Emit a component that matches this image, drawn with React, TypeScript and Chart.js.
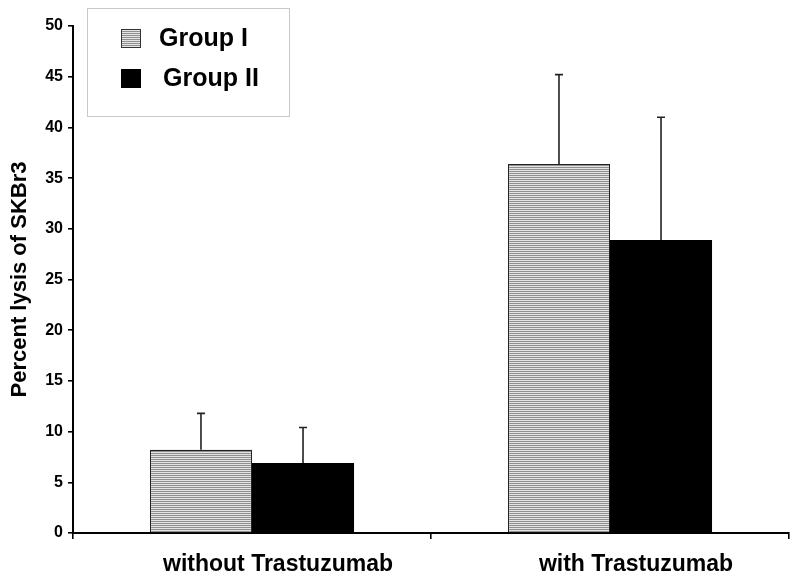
import React, { useEffect, useRef } from "react";
import { Chart, registerables } from "chart.js";

Chart.register(...registerables);

const categories = ["without Trastuzumab", "with Trastuzumab"];
const seriesNames = ["Group I", "Group II"];
const groupI = [8.2, 36.4];
const groupIErr = [3.6, 8.8];
const groupII = [6.9, 28.9];
const groupIIErr = [3.5, 12.1];
const yMin = 0;
const yMax = 50;
const yStep = 5;

const FONT = "'Liberation Sans', Arial, sans-serif";

function makeStripePattern(): CanvasPattern | string {
  const c = document.createElement("canvas");
  c.width = 4;
  c.height = 2;
  const g = c.getContext("2d");
  if (!g) return "#bbb";
  g.fillStyle = "#e4e4e4";
  g.fillRect(0, 0, 4, 2);
  g.fillStyle = "#8f8f8f";
  g.fillRect(0, 1, 4, 1);
  const p = g.createPattern(c, "repeat");
  return p || "#bbb";
}

export default function App() {
  const ref = useRef<HTMLCanvasElement | null>(null);

  useEffect(() => {
    const canvas = ref.current;
    if (!canvas) return;
    const stripe = makeStripePattern();
    const errs = [groupIErr, groupIIErr];

    const errorBarPlugin = {
      id: "errorBars",
      afterDatasetsDraw(chart: any) {
        const ctx = chart.ctx;
        const y = chart.scales.y;
        ctx.save();
        ctx.strokeStyle = "#222";
        ctx.lineWidth = 1.6;
        chart.data.datasets.forEach((ds: any, di: number) => {
          const meta = chart.getDatasetMeta(di);
          meta.data.forEach((el: any, i: number) => {
            const v = ds.data[i];
            const top = y.getPixelForValue(v + errs[di][i]);
            ctx.beginPath();
            ctx.moveTo(el.x, el.y);
            ctx.lineTo(el.x, top);
            ctx.moveTo(el.x - 4, top);
            ctx.lineTo(el.x + 4, top);
            ctx.stroke();
          });
        });
        ctx.restore();
      },
    };

    const legendPlugin = {
      id: "boxLegend",
      afterDraw(chart: any) {
        const ctx = chart.ctx;
        ctx.save();
        ctx.strokeStyle = "#c8c8c8";
        ctx.lineWidth = 1;
        ctx.strokeRect(87.5, 8.5, 202, 108);
        const fills = [stripe, "#000"];
        const rows = [38.5, 78.5];
        const textX = [159, 163];
        rows.forEach((cy, i) => {
          ctx.fillStyle = fills[i] as any;
          ctx.fillRect(121, cy - 9.5, 20, 19);
          if (i === 0) {
            ctx.strokeStyle = "#333";
            ctx.lineWidth = 1;
            ctx.strokeRect(121.5, cy - 9, 19, 18);
          }
          ctx.fillStyle = "#000";
          ctx.font = `bold 25px ${FONT}`;
          ctx.textBaseline = "middle";
          ctx.textAlign = "left";
          ctx.fillText(seriesNames[i], textX[i], cy + 1);
        });
        ctx.restore();
      },
    };

    const chart = new Chart(canvas, {
      type: "bar",
      data: {
        labels: categories,
        datasets: [
          {
            label: seriesNames[0],
            data: groupI,
            backgroundColor: stripe as any,
            borderColor: "#222",
            borderWidth: 1.2,
            categoryPercentage: 0.57,
            barPercentage: 1.0,
          },
          {
            label: seriesNames[1],
            data: groupII,
            backgroundColor: "#000",
            borderColor: "#000",
            borderWidth: 0,
            categoryPercentage: 0.57,
            barPercentage: 1.0,
          },
        ],
      },
      options: {
        responsive: false,
        animation: false,
        devicePixelRatio: 1,
        layout: { padding: { top: 26, right: 11, left: 0, bottom: 0 } },
        plugins: {
          legend: { display: false },
          tooltip: { enabled: false },
          title: { display: false },
        },
        scales: {
          x: {
            afterFit(scale: any) {
              scale.height = 46;
            },
            grid: {
              display: true,
              offset: true,
              drawOnChartArea: false,
              drawTicks: true,
              tickLength: 6,
              color: "#000",
              lineWidth: 1.6,
            },
            border: { display: true, color: "#000", width: 2 },
            ticks: {
              color: "#000",
              font: { family: FONT, size: 23, weight: "bold" },
              padding: 12,
              labelOffset: 26,
              maxRotation: 0,
            },
          },
          y: {
            min: yMin,
            max: yMax,
            afterFit(scale: any) {
              scale.width = 73;
            },
            grid: {
              display: true,
              drawOnChartArea: false,
              drawTicks: true,
              tickLength: 5,
              color: "#000",
              lineWidth: 1.6,
            },
            border: { display: true, color: "#000", width: 2 },
            ticks: {
              stepSize: yStep,
              color: "#000",
              font: { family: FONT, size: 16, weight: "bold" },
              padding: 5,
            },
            title: {
              display: true,
              text: "Percent lysis of SKBr3",
              color: "#000",
              font: { family: FONT, size: 22, weight: "bold" },
              padding: { top: 7, bottom: 0 },
            },
          },
        },
      },
      plugins: [errorBarPlugin, legendPlugin],
    });

    return () => {
      chart.destroy();
    };
  }, []);

  return (
    <div
      style={{
        position: "absolute",
        left: 0,
        top: 0,
        width: 800,
        height: 579,
        background: "#fff",
      }}
    >
      <canvas ref={ref} width={800} height={579} style={{ display: "block" }} />
    </div>
  );
}
